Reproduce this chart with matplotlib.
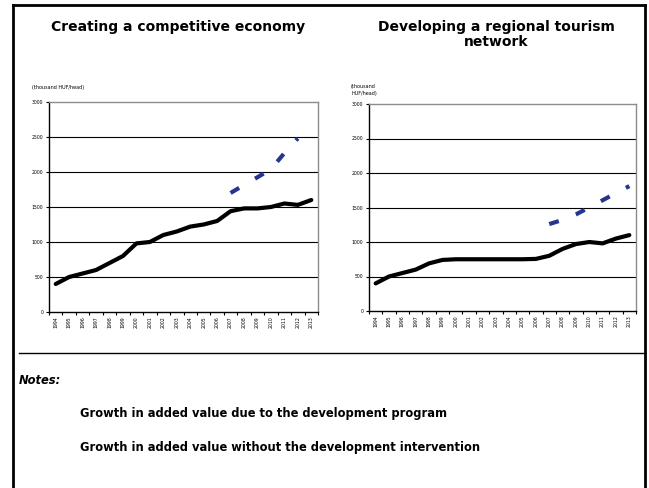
import numpy as np
import matplotlib
matplotlib.use("Agg")
from matplotlib import pyplot as plt
from matplotlib.lines import Line2D

# Data
years = [str(y) for y in range(1994, 2014)]

economy_base = [400, 500, 550, 600, 700, 800, 980, 1000, 1100, 1150,
                1220, 1250, 1300, 1440, 1480, 1480, 1500, 1550, 1530, 1600]
economy_prog_years = ["2007", "2008", "2009", "2010", "2011", "2012"]
economy_prog = [1700, 1815, 1925, 2040, 2270, 2480]

tourism_base = [400, 500, 550, 600, 690, 740, 750, 750, 750, 750,
                750, 750, 755, 800, 900, 970, 1000, 980, 1050, 1100]
tourism_prog_years = ["2007", "2008", "2009", "2010", "2011", "2012", "2013"]
tourism_prog = [1260, 1320, 1400, 1500, 1605, 1710, 1810]

titles = ["Creating a competitive economy",
          "Developing a regional tourism\nnetwork"]
units = ["(thousand HUF/head)", "(thousand\nHUF/head)"]
notes = ["Growth in added value due to the development program",
         "Growth in added value without the development intervention"]

W, H = 649, 488
fig = plt.figure(figsize=(W / 100, H / 100), dpi=100)
fig.patch.set_facecolor("white")


def px_axes(x0, y0, x1, y1):
    return fig.add_axes([x0 / W, 1 - y1 / H, (x1 - x0) / W, (y1 - y0) / H])


def draw_panel(ax, base, prog_years, prog):
    x = np.arange(len(years))
    px = [years.index(y) for y in prog_years]
    ax.set_xlim(-0.5, len(years) - 0.5)
    ax.set_ylim(0, 3000)
    for v in range(500, 3000, 500):
        ax.axhline(v, color="black", lw=0.8, zorder=1)
    ax.plot(x, base, color="black", lw=3.0, solid_capstyle="round",
            solid_joinstyle="round", zorder=3)
    ax.plot(px, prog, color="#26358f", lw=3.0, dashes=(2.4, 4.4), zorder=3)
    ax.set_yticks(range(0, 3001, 500))
    ax.set_yticklabels([str(v) for v in range(0, 3001, 500)], fontsize=3.3)
    ax.set_xticks(np.arange(-0.5, len(years), 1.0))
    ax.set_xticklabels([])
    ax.set_xticks(x, minor=True)
    ax.set_xticklabels(years, minor=True, rotation=90, fontsize=3.3)
    ax.tick_params(axis="x", which="major", length=2, width=0.8, direction="out")
    ax.tick_params(axis="x", which="minor", length=0, pad=3)
    ax.tick_params(axis="y", length=2, width=0.8, pad=2)
    for s in ("left", "bottom"):
        ax.spines[s].set_color("black")
        ax.spines[s].set_linewidth(1.0)
    for s in ("top", "right"):
        ax.spines[s].set_color("#8c8c8c")
        ax.spines[s].set_linewidth(1.0)


ax1 = px_axes(49, 102, 318, 312)
draw_panel(ax1, economy_base, economy_prog_years, economy_prog)
ax2 = px_axes(369, 104, 636, 311)
draw_panel(ax2, tourism_base, tourism_prog_years, tourism_prog)

# titles and unit labels
fig.text(178 / W, 1 - 20 / H, titles[0], ha="center", va="top",
         fontsize=10, fontweight="bold")
fig.text(496 / W, 1 - 20 / H, titles[1], ha="center", va="top",
         fontsize=10, fontweight="bold", linespacing=1.1)
fig.text(32 / W, 1 - 87 / H, units[0], ha="left", va="center", fontsize=3.5)
fig.text(351 / W, 1 - 90 / H, units[1], ha="left", va="center", fontsize=3.5,
         linespacing=1.6)

# frame and separator
lw_frame = 2.0
fig.add_artist(Line2D([13 / W, 13 / W], [0, 1 - 5 / H], color="black", lw=lw_frame))
fig.add_artist(Line2D([645 / W, 645 / W], [0, 1 - 5 / H], color="black", lw=lw_frame))
fig.add_artist(Line2D([13 / W, 645 / W], [1 - 5 / H, 1 - 5 / H], color="black", lw=lw_frame))
fig.add_artist(Line2D([19 / W, 645 / W], [1 - 353 / H, 1 - 353 / H], color="black", lw=1.0))

# notes
fig.text(19 / W, 1 - 381 / H, "Notes:", ha="left", va="center",
         fontsize=8.3, fontweight="bold", fontstyle="italic")
fig.text(80 / W, 1 - 414 / H, notes[0], ha="left", va="center",
         fontsize=8.3, fontweight="bold")
fig.text(80 / W, 1 - 447 / H, notes[1], ha="left", va="center",
         fontsize=8.3, fontweight="bold")

fig.savefig("out.png", dpi=100)
